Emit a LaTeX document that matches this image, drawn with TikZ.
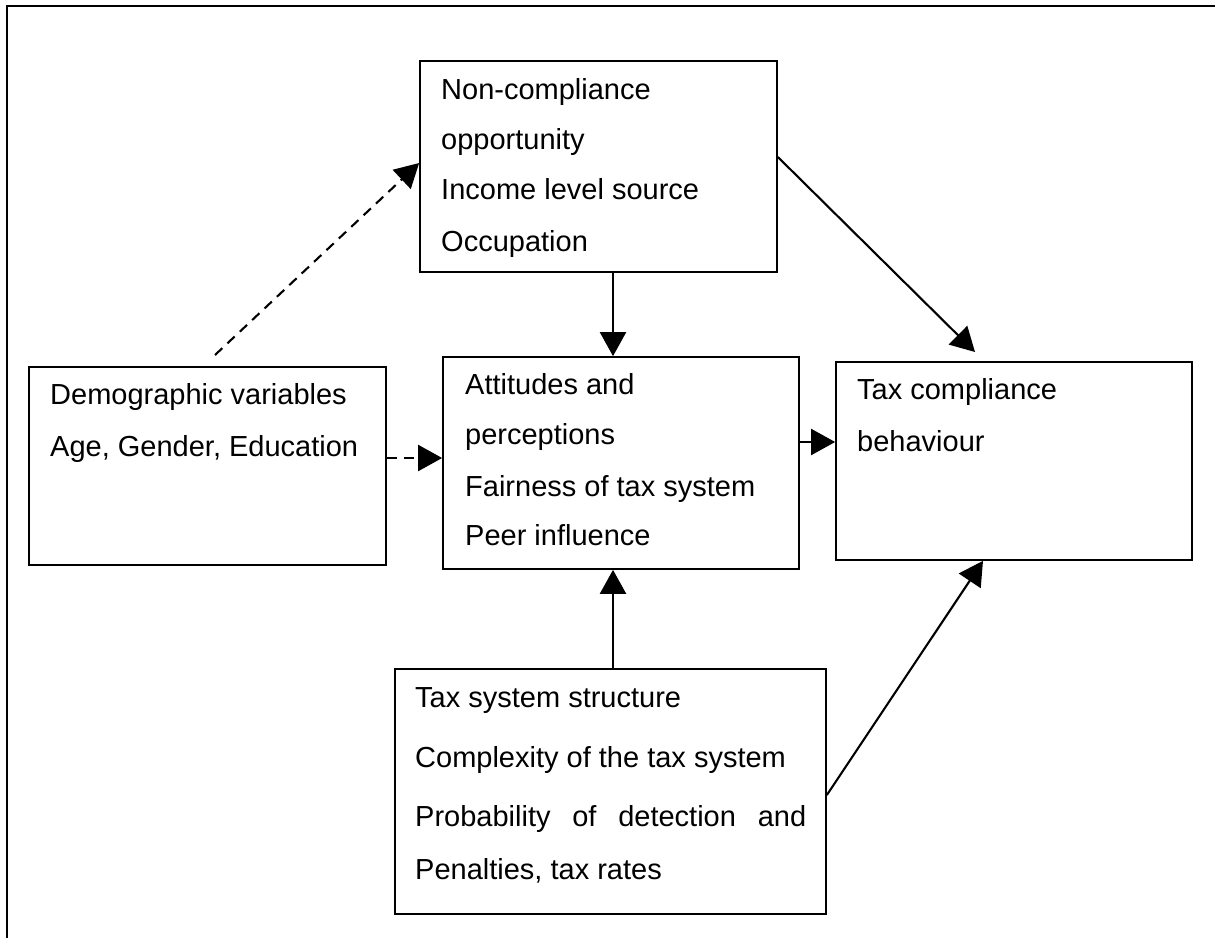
\documentclass[tikz,border=0pt]{standalone}
\usepackage{fontspec}
\setmainfont{Liberation Sans}
\usetikzlibrary{arrows.meta}

\begin{document}
\begin{tikzpicture}[x=1pt,y=-1pt,
  box/.style={draw, line width=1.7pt, rectangle, inner sep=0pt},
  txt/.style={anchor=base west, inner sep=0pt, font=\fontsize{29}{35}\selectfont},
  link/.style={line width=2.1pt, -{Triangle[length=24pt,width=26pt]}},
  dashlink/.style={link, dash pattern=on 10pt off 7pt}]

\useasboundingbox (0,0) rectangle (1215,938);

% page frame (top and left edges)
\draw[line width=2.2pt] (7,938) -- (7,6) -- (1215,6);

% boxes
\node[box, minimum width=357pt, minimum height=211pt] (top) at (598.5,166.5) {};
\node[box, minimum width=357pt, minimum height=198pt] (demo) at (207.5,466) {};
\node[box, minimum width=356pt, minimum height=212pt] (att) at (621,463) {};
\node[box, minimum width=356pt, minimum height=198pt] (tcb) at (1014,461) {};
\node[box, minimum width=431pt, minimum height=245pt] (tss) at (610.5,791.5) {};

% box texts
\node[txt] (top1) at (441,99) {Non-compliance};
\node[txt] (top2) at (441,149) {opportunity};
\node[txt] (top3) at (441,199) {Income level source};
\node[txt] (top4) at (441,251) {Occupation};

\node[txt] (demo1) at (50,404) {Demographic variables};
\node[txt] (demo2) at (50,456) {Age, Gender, Education};

\node[txt] (att1) at (465,394) {Attitudes and};
\node[txt] (att2) at (465,444) {perceptions};
\node[txt] (att3) at (465,496) {Fairness of tax system};
\node[txt] (att4) at (465,545) {Peer influence};

\node[txt] (tcb1) at (857,399) {Tax compliance};
\node[txt] (tcb2) at (857,451) {behaviour};

\node[txt] (tss1) at (415,707) {Tax system structure};
\node[txt] (tss2) at (415,767) {Complexity of the tax system};
\node[txt] (tss3) at (415,826) {\makebox[391pt][s]{Probability of detection and}};
\node[txt] (tss4) at (415,879) {Penalties, tax rates};

% reference coordinates for the connectors
\coordinate (vx) at (613,0);
\coordinate (hDemo) at (0,458);
\coordinate (hAtt) at (0,442);
\coordinate (hTopOut) at (0,157);
\coordinate (hTopIn) at (0,163);
\coordinate (hTssOut) at (0,795);
\coordinate (xTcbIn) at (983,0);
\coordinate (demoStart) at (215,355);
\coordinate (tcbTop) at (975,352);

% connectors
\draw[link] (top.south -| vx) -- (att.north -| vx);
\draw[link] (tss.north -| vx) -- (att.south -| vx);
\draw[dashlink] (demo.east |- hDemo) -- (att.west |- hDemo);
\draw[link] (att.east |- hAtt) -- (tcb.west |- hAtt);
\draw[link] (top.east |- hTopOut) -- (tcbTop);
\draw[link] (tss.east |- hTssOut) -- (tcb.south -| xTcbIn);
\draw[dashlink] (demoStart) -- (top.west |- hTopIn);

\end{tikzpicture}
\end{document}
